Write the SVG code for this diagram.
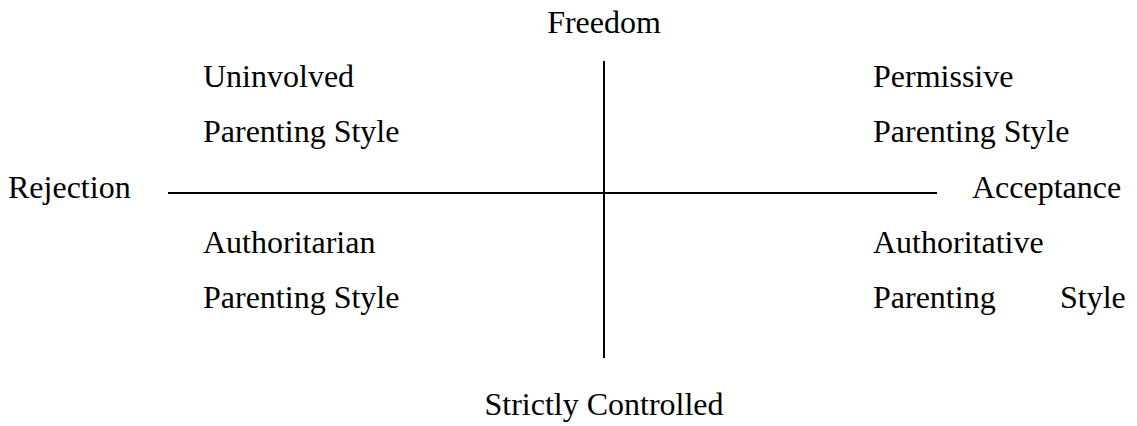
<svg xmlns="http://www.w3.org/2000/svg" width="1137" height="426" viewBox="0 0 1137 426">
<style>
text{font-family:"Liberation Serif","Times New Roman",serif;font-size:32px;fill:#000}
.axis{stroke:#000;stroke-width:2;fill:none}
.mid{text-anchor:middle}
</style>
<rect width="1137" height="426" fill="#fff"/>
<g id="connectors">
<line class="axis" x1="604" y1="61" x2="604" y2="358"/>
<line class="axis" x1="168" y1="193" x2="937" y2="193"/>
</g>
<g id="freedom"><text class="mid" x="604" y="33">Freedom</text></g>
<g id="strictly-controlled"><text class="mid" x="604" y="415">Strictly Controlled</text></g>
<g id="rejection"><text x="8" y="198">Rejection</text></g>
<g id="acceptance"><text x="972" y="198">Acceptance</text></g>
<g id="uninvolved"><text x="203" y="87">Uninvolved</text><text x="203" y="142">Parenting Style</text></g>
<g id="permissive"><text x="873" y="87">Permissive</text><text x="873" y="142">Parenting Style</text></g>
<g id="authoritarian"><text x="203" y="253">Authoritarian</text><text x="203" y="308">Parenting Style</text></g>
<g id="authoritative"><text x="873" y="253">Authoritative</text><text x="873" y="308">Parenting</text><text x="1060" y="308">Style</text></g>
</svg>
